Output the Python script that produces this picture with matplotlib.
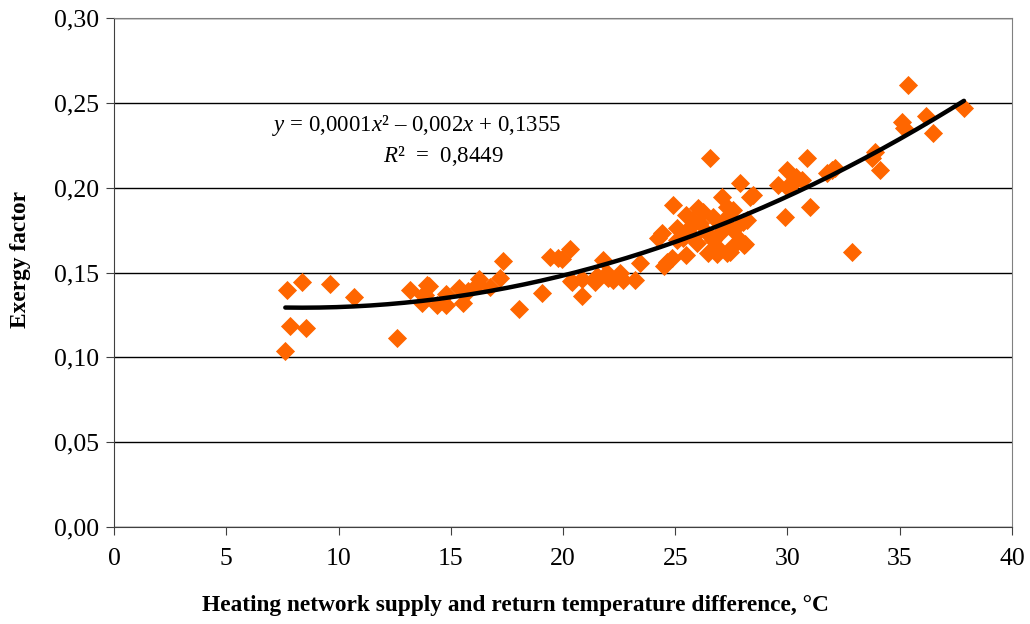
import numpy as np
import matplotlib
matplotlib.use("Agg")
import matplotlib.pyplot as plt
from matplotlib.ticker import FuncFormatter, MultipleLocator

# temperature difference, degC
temp_diff = [
    7.72, 8.39, 9.62, 10.68, 7.83, 8.54, 7.63, 12.62, 13.2, 13.72, 13.85, 13.93,
    14.02, 13.75, 14.37, 14.79, 14.79, 15.38, 15.56, 15.78, 16.27, 16.23, 16.75,
    17.19, 17.31, 18.05, 19.05, 19.42, 19.79, 19.94, 20.31, 20.34, 20.83, 20.83,
    21.43, 21.8, 21.95, 22.02, 22.54, 22.66, 23.2, 23.43, 22.24, 20.39, 21.5,
    24.89, 26.55, 27.88, 28.48, 28.18, 28.06, 24.62, 24.84, 25.5, 24.4, 24.25,
    25.06, 25.5, 26.03, 27.07, 27.29, 26.47, 27.29, 26.84, 25.95, 26.4, 26.99,
    27.58, 27.88, 25.66, 26.7, 27.58, 26.1, 25.8, 25.36, 27.14, 26.7, 26.25,
    27.29, 25.73, 25.06, 27.51, 28.33, 28.03, 26.84, 27.44, 28.1, 24.5,
    35.35, 37.86, 36.15, 36.5, 35.08, 35.19, 33.9, 33.75, 34.12, 32.86, 30.85,
    29.96, 29.59, 29.96, 30.4, 30.63, 30.26, 29.89, 31.0, 31.75, 32.12, 31.97,
]
# exergy factor
exergy = [
    0.1395, 0.1444, 0.1432, 0.1355, 0.1183, 0.1175, 0.1039, 0.1115, 0.1397, 0.1318, 0.1367, 0.1426,
    0.1422, 0.1365, 0.131, 0.1373, 0.131, 0.1406, 0.1318, 0.139, 0.1461, 0.1432, 0.1416,
    0.1469, 0.1569, 0.1283, 0.138, 0.1593, 0.1583, 0.1577, 0.1636, 0.1451, 0.146, 0.1361,
    0.1446, 0.1573, 0.1495, 0.1465, 0.1495, 0.1456, 0.1456, 0.1558, 0.1456, 0.1446, 0.148,
    0.1897, 0.2173, 0.2025, 0.1956, 0.1809, 0.1662, 0.1563, 0.1583, 0.1603, 0.173, 0.1701,
    0.176, 0.1838, 0.1878, 0.1947, 0.1888, 0.1613, 0.1613, 0.1652, 0.1672, 0.173, 0.173,
    0.175, 0.1691, 0.177, 0.1829, 0.1868, 0.179, 0.1711, 0.1701, 0.179, 0.1691, 0.1858,
    0.1829, 0.1809, 0.1691, 0.1652, 0.1947, 0.18, 0.161, 0.162, 0.167, 0.154,
    0.2603, 0.2471, 0.2422, 0.232, 0.2388, 0.2349, 0.2212, 0.2173, 0.2104, 0.1619, 0.2173,
    0.2104, 0.2015, 0.2005, 0.2064, 0.2045, 0.2025, 0.1829, 0.1884, 0.2084, 0.2114, 0.2104,
]

x_ticks = [0, 5, 10, 15, 20, 25, 30, 35, 40]
eq_text = r"$y$ = 0,0001$x$² – 0,002$x$ + 0,1355"
r2_text = r"$R$²  =  0,8449"

plt.rcParams["font.family"] = ["Liberation Serif", "DejaVu Serif"]
plt.rcParams["mathtext.fontset"] = "custom"
plt.rcParams["mathtext.rm"] = "Liberation Serif"
plt.rcParams["mathtext.it"] = "Liberation Serif:italic"

fig = plt.figure(figsize=(10.3, 6.24), dpi=100)
ax = fig.add_axes([0.1107, 0.1554, 0.8718, 0.8158])

xs = np.array(temp_diff)
ys = np.array(exergy)
ax.scatter(xs, ys, marker="D", s=95, color="#FF6600", linewidths=0, zorder=3)

# 2nd order polynomial trend line
coef = np.polyfit(xs, ys, 2)
xf = np.linspace(xs.min(), xs.max(), 200)
ax.plot(xf, np.polyval(coef, xf), color="black", lw=3.2, zorder=4, solid_capstyle="round")

ax.set_xlim(0, 40)
ax.set_ylim(0, 0.30)
ax.set_xticks(x_ticks)
ax.yaxis.set_major_locator(MultipleLocator(0.05))
ax.yaxis.set_major_formatter(FuncFormatter(lambda v, p: f"{v:.2f}".replace(".", ",")))
ax.grid(axis="y", color="black", lw=1)
ax.set_axisbelow(True)
for side in ["top", "right"]:
    ax.spines[side].set_color("#808080")
for side in ["left", "bottom"]:
    ax.spines[side].set_color("#404040")
ax.tick_params(direction="out", length=6, labelsize=18.5, color="#404040")
ax.tick_params(axis="x", pad=9)
ax.tick_params(axis="y", pad=5)

ax.set_xlabel("Heating network supply and return temperature difference, °C",
              fontsize=16.8, fontweight="bold")
ax.set_ylabel("Exergy factor", fontsize=16.8, fontweight="bold")
ax.xaxis.set_label_coords(0.4465, -0.134)
ax.yaxis.set_label_coords(-0.093, 0.525)

ax.text(0.337, 0.788, eq_text, transform=ax.transAxes, fontsize=16.5, ha="center", va="center")
ax.text(0.367, 0.728, r2_text, transform=ax.transAxes, fontsize=16.5, ha="center", va="center")

fig.savefig("out.png", dpi=100)
